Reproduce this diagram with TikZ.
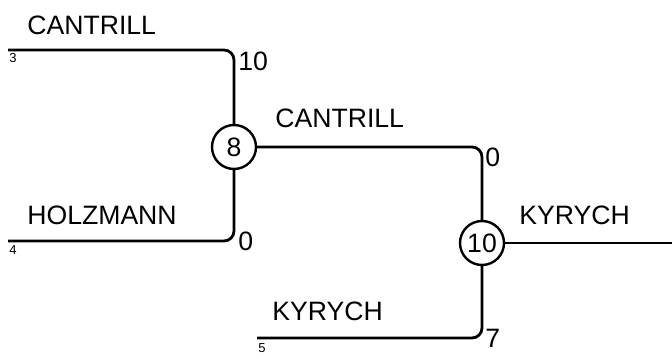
\documentclass[tikz,border=0pt]{standalone}
\usepackage{fontspec}
\setmainfont{Liberation Sans}
\begin{document}
\begin{tikzpicture}[x=0.5pt,y=-0.5pt,
  ln/.style={line width=1.4pt,rounded corners=5pt},
  team/.style={font=\fontsize{13.3}{15}\selectfont,inner sep=0pt},
  score/.style={font=\fontsize{13.3}{15}\selectfont,inner sep=0pt},
  seed/.style={font=\fontsize{6.5}{7}\selectfont,inner sep=0pt},
  match/.style={circle,draw,line width=1.2pt,minimum size=22pt,inner sep=0pt,font=\fontsize{13.3}{14}\selectfont}]
\useasboundingbox (0,0) rectangle (672,358);
\node[match] (m8) at (234,147) {8};
\node[match] (m10) at (482,243) {10};
\coordinate (s3) at (8,50);
\coordinate (s4) at (8,241);
\coordinate (s5) at (257,338);
\coordinate (out) at (672,243);
\draw[ln] (s3) -| (m8.north);
\draw[ln] (s4) -| (m8.south);
\draw[ln] (m8.east) -| (m10.north);
\draw[ln] (s5) -| (m10.south);
\draw[ln] (m10.east) -- (out);
\node[team,anchor=west] (t1) at (27,25) {CANTRILL};
\node[team,anchor=west] (t2) at (27,215) {HOLZMANN};
\node[team,anchor=west] (t3) at (275,118) {CANTRILL};
\node[team,anchor=west] (t4) at (272,311) {KYRYCH};
\node[team,anchor=west] (t5) at (519,215) {KYRYCH};
\node[seed,anchor=west] (n3) at (9,58) {3};
\node[seed,anchor=west] (n4) at (9,250) {4};
\node[seed,anchor=west] (n5) at (258,348) {5};
\node[score,anchor=west] (c1) at (238,61) {10};
\node[score,anchor=west] (c2) at (238,241) {0};
\node[score,anchor=west] (c3) at (485,157) {0};
\node[score,anchor=west] (c4) at (485,338) {7};
\end{tikzpicture}
\end{document}
